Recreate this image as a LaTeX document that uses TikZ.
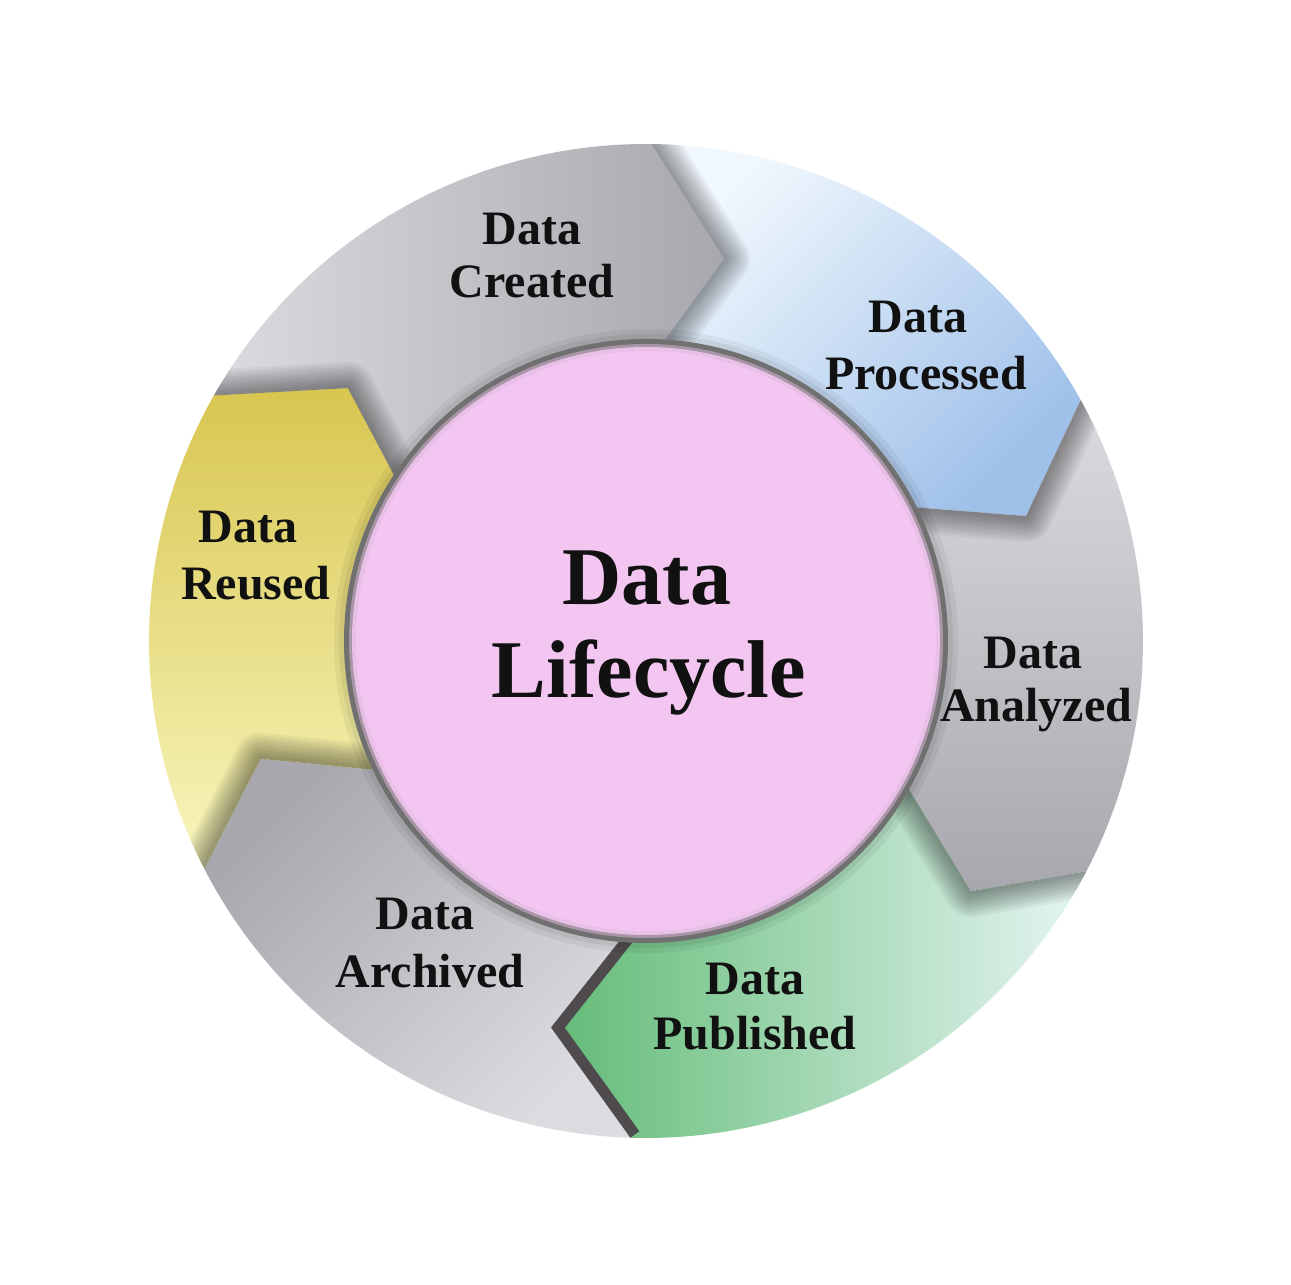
\documentclass[tikz,border=0pt]{standalone}
\usepackage{fontspec}
\setmainfont{Liberation Serif}
\usetikzlibrary{calc}
\definecolor{pinkc}{HTML}{F3C6F1}
\definecolor{grayL}{HTML}{DCDBE0}
\definecolor{grayD}{HTML}{A8A7AD}
\definecolor{blueL}{HTML}{F1F8FD}
\definecolor{blueD}{HTML}{9FC0E9}
\definecolor{greenD}{HTML}{62BB76}
\definecolor{greenL}{HTML}{E6F5F3}
\definecolor{yellowD}{HTML}{D8C650}
\definecolor{yellowL}{HTML}{F8F6BE}
\definecolor{ringdark}{HTML}{707070}
\definecolor{ringmid}{HTML}{A896A6}
\definecolor{edgedark}{HTML}{4E4A4E}
\definecolor{inkc}{HTML}{111111}
% segment: start boundary (outer, tip, tip radius, inner), end boundary (outer, tip, tip radius, inner)
\newcommand\segp[8]{(#1:497) arc[start angle=#1,end angle=#5,radius=497] -- (#6:#7) -- (#8:285) arc[start angle=#8,end angle=#4,radius=285] -- (#2:#3) -- cycle}
\newcommand\tipline[4]{(#1:497) -- (#2:#3) -- (#4:285)}
\newcommand\softshadow[1]{\foreach \w in {52,47,42,37,32,27,22,17,12,7}{\draw[line width=\w pt,black,opacity=0.045,line join=round] #1;}}
\tikzset{
  seglabel/.style={font=\fontsize{48}{52}\selectfont\bfseries,text=inkc,anchor=base,inner sep=0pt},
  biglabel/.style={font=\fontsize{82}{86}\selectfont\bfseries,text=inkc,anchor=base,inner sep=0pt}
}
\begin{document}
\begin{tikzpicture}[x=1pt,y=1pt]
\useasboundingbox (0,0) rectangle (1291,1285);
\fill[white] (0,0) rectangle (1291,1285);
\begin{scope}[shift={(646,644)}]
  % segments
  \shade[left color=grayL,right color=grayD] \segp{150.4}{139.7}{391}{148.5}{89.4}{78.5}{390}{88.6};
  \shade[top color=blueL,bottom color=blueD,shading angle=45] \segp{89.4}{78.5}{390}{88.6}{29}{18.2}{400}{28.3};
  \shade[top color=grayL,bottom color=grayD] \segp{29}{18.2}{400}{28.3}{-27.6}{-37.6}{410}{-27.5};
  \shade[left color=greenD,right color=greenL] \segp{-27.6}{-37.6}{410}{-27.5}{-91.8}{-103.8}{398}{-92.9};
  \shade[top color=grayD,bottom color=grayL,shading angle=45] \segp{-91.8}{-103.8}{398}{-92.9}{-152.7}{-163}{403}{-152.7};
  \shade[top color=yellowD,bottom color=yellowL] \segp{207.3}{197}{403}{207.3}{150.4}{139.7}{391}{148.5};
  % shadows of the arrow tips
  \begin{scope}
    \clip \segp{89.4}{78.5}{390}{88.6}{29}{18.2}{400}{28.3};
    \softshadow{\tipline{89.4}{78.5}{390}{88.6}}
  \end{scope}
  \begin{scope}
    \clip \segp{29}{18.2}{400}{28.3}{-27.6}{-37.6}{410}{-27.5};
    \softshadow{\tipline{29}{18.2}{400}{28.3}}
  \end{scope}
  \begin{scope}
    \clip \segp{-27.6}{-37.6}{410}{-27.5}{-91.8}{-103.8}{398}{-92.9};
    \softshadow{\tipline{-27.6}{-37.6}{410}{-27.5}}
    \draw[line width=22pt,edgedark,line join=miter] \tipline{-91.8}{-103.8}{398}{-92.9};
  \end{scope}
  \begin{scope}
    \clip \segp{207.3}{197}{403}{207.3}{150.4}{139.7}{391}{148.5};
    \softshadow{\tipline{207.3}{197}{403}{207.3}}
  \end{scope}
  \begin{scope}
    \clip \segp{150.4}{139.7}{391}{148.5}{89.4}{78.5}{390}{88.6};
    \softshadow{\tipline{150.4}{139.7}{391}{148.5}}
  \end{scope}
  % centre circle
  \fill[black,opacity=0.05] (0,0) circle[radius=312];
  \fill[black,opacity=0.06] (0,0) circle[radius=307];
  \fill[ringdark] (0,0) circle[radius=302];
  \fill[ringmid] (0,0) circle[radius=297];
  \fill[pinkc!85!ringmid] (0,0) circle[radius=294];
  \fill[pinkc] (0,0) circle[radius=290];
\end{scope}
% labels
\node[seglabel] (c1) at (532,1040) {Data};
\node[seglabel] (c2) at (532,987) {Created};
\node[seglabel] (p1) at (918,952) {Data};
\node[seglabel] (p2) at (926,895) {Processed};
\node[seglabel] (a1) at (1033,616) {Data};
\node[seglabel] (a2) at (1036,563) {Analyzed};
\node[seglabel] (u1) at (755,290) {Data};
\node[seglabel] (u2) at (755,235) {Published};
\node[seglabel] (h1) at (425,355) {Data};
\node[seglabel] (h2) at (430,297) {Archived};
\node[seglabel] (r1) at (248,742) {Data};
\node[seglabel] (r2) at (256,685) {Reused};
\node[biglabel] (m1) at (647,680) {Data};
\node[biglabel] (m2) at (649,587) {Lifecycle};
\end{tikzpicture}
\end{document}
